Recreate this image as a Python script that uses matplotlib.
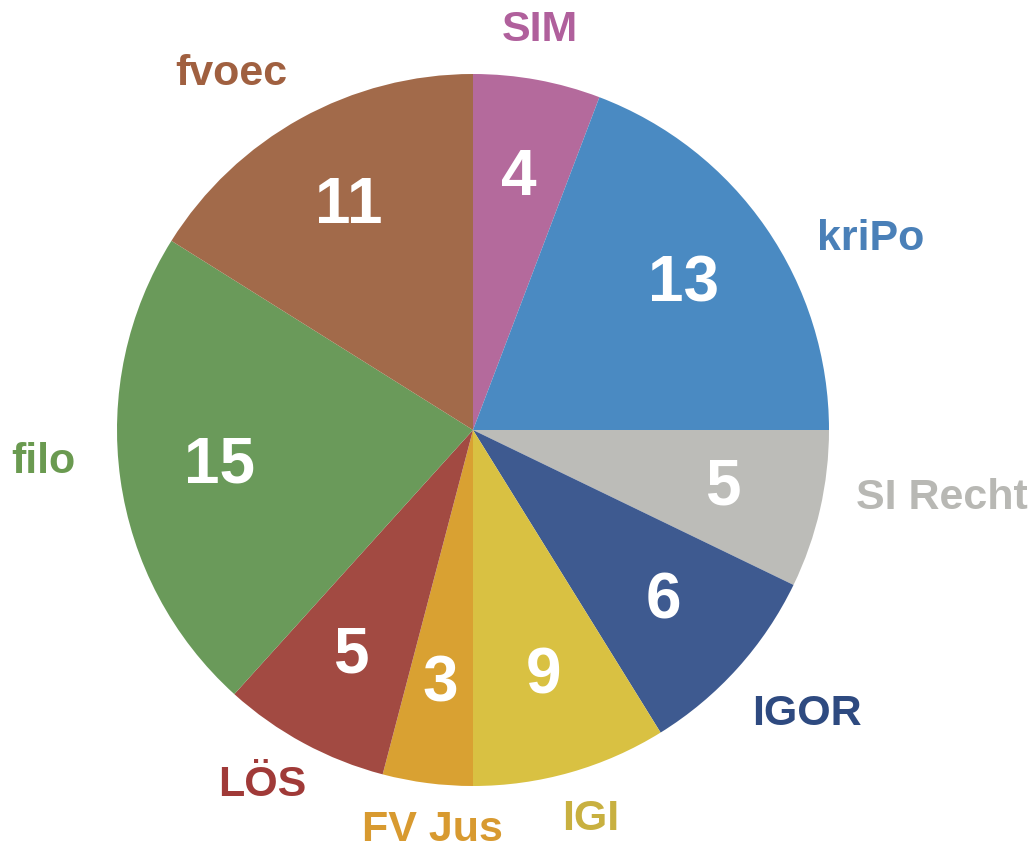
import numpy as np
import matplotlib.pyplot as plt

labels = ['SIM', 'kriPo', 'SI Recht', 'IGOR', 'IGI', 'FV Jus', 'LÖS', 'filo', 'fvoec']
values = [4, 13, 5, 6, 9, 3, 5, 15, 11]
# slice sizes as drawn in the original (degrees), not proportional to the counts
slice_deg = [20.8, 69.2, 25.8, 32.4, 31.8, 14.7, 27.4, 80.0, 57.9]

colors = ['#b46a9c', '#4a8ac2', '#bcbcb8', '#3e5a90', '#d9c142', '#d9a132', '#a24a42', '#6a9a5a', '#a26a4a']
label_colors = ['#b0609c', '#4a80b8', '#b8b8b4', '#2e4a80', '#c8b040', '#d89a30', '#a03a38', '#6a9a50', '#a06040']
label_dist = [1.14, 1.24, 1.33, 1.23, 1.14, 1.13, 1.16, 1.21, 1.21]
label_shift = [-0.9, 9.0, -4.7, -1.6, -0.9, -1.5, 2.3, 3.6, -5.2]  # degrees, clockwise

plt.rcParams['font.family'] = ['Liberation Sans', 'DejaVu Sans']

fig = plt.figure(figsize=(10.32, 8.49), dpi=100)
ax = fig.add_axes([117 / 1032, 63 / 849, 712 / 1032, 712 / 849])

wedges, _ = ax.pie(slice_deg, colors=colors, startangle=90, counterclock=False,
                   radius=1, wedgeprops=dict(linewidth=0))
ax.set_xlim(-1, 1)
ax.set_ylim(-1, 1)
ax.set_aspect('equal')
ax.axis('off')

for w, lab, val, lc, d, s in zip(wedges, labels, values, label_colors, label_dist, label_shift):
    mid = (w.theta1 + w.theta2) / 2
    ang = np.deg2rad(mid)
    ax.text(0.72 * np.cos(ang), 0.72 * np.sin(ang), str(val), ha='center', va='center',
            fontsize=46, fontweight='bold', color='white')
    la = np.deg2rad(mid - s)
    ax.text(d * np.cos(la), d * np.sin(la), lab, ha='center', va='center', fontsize=31,
            fontweight='bold', color=lc, clip_on=False)

plt.savefig('out.png', dpi=100)
plt.close()
